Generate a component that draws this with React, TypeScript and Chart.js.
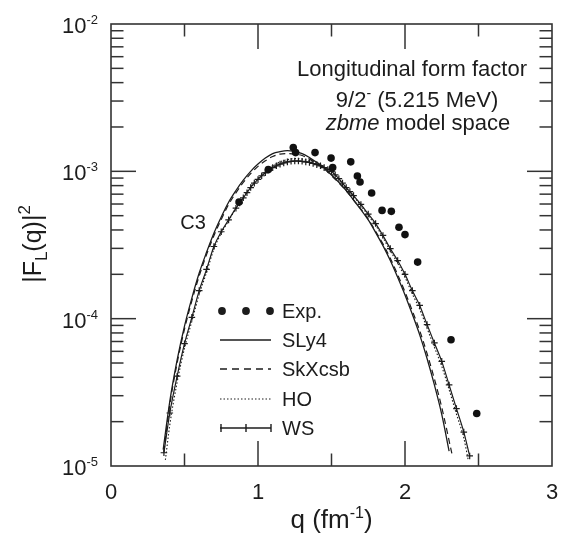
import React, { useEffect, useRef } from "react";
import { Chart, registerables } from "chart.js";

Chart.register(...registerables);

// ---------------- data ----------------
// experimental points
const expQ = [0.871, 1.07, 1.24, 1.256, 1.388, 1.497, 1.508, 1.631, 1.676, 1.694, 1.773, 1.844, 1.907, 1.959, 2.0, 2.086, 2.313, 2.488];
const expF = [6.19e-4, 1.03e-3, 1.45e-3, 1.34e-3, 1.34e-3, 1.23e-3, 1.06e-3, 1.16e-3, 9.3e-4, 8.46e-4, 7.13e-4, 5.43e-4, 5.35e-4, 4.17e-4, 3.72e-4, 2.42e-4, 7.2e-5, 2.27e-5];

// SLy4 (solid)
const sly4Q = [0.355, 0.4, 0.45, 0.5, 0.55, 0.6, 0.65, 0.7, 0.75, 0.8, 0.85, 0.9, 0.95, 1.0, 1.05, 1.1, 1.15, 1.2, 1.25, 1.3, 1.35, 1.4, 1.45, 1.5, 1.55, 1.6, 1.65, 1.7, 1.75, 1.8, 1.85, 1.9, 1.95, 2.0, 2.05, 2.1, 2.15, 2.2, 2.25, 2.3];
const sly4F = [1.29e-5, 2.75e-5, 5.25e-5, 8.91e-5, 1.38e-4, 2.04e-4, 2.82e-4, 3.8e-4, 4.9e-4, 6.17e-4, 7.41e-4, 8.71e-4, 1.0e-3, 1.12e-3, 1.23e-3, 1.32e-3, 1.36e-3, 1.38e-3, 1.36e-3, 1.32e-3, 1.24e-3, 1.15e-3, 1.06e-3, 9.44e-4, 8.41e-4, 7.41e-4, 6.38e-4, 5.5e-4, 4.68e-4, 3.85e-4, 3.13e-4, 2.48e-4, 1.91e-4, 1.45e-4, 1.07e-4, 7.76e-5, 5.37e-5, 3.55e-5, 2.24e-5, 1.26e-5];

// SkXcsb (dashed)
const skxQ = [0.36, 0.4, 0.45, 0.5, 0.55, 0.6, 0.65, 0.7, 0.75, 0.8, 0.85, 0.9, 0.95, 1.0, 1.05, 1.1, 1.15, 1.2, 1.25, 1.3, 1.35, 1.4, 1.45, 1.5, 1.55, 1.6, 1.65, 1.7, 1.75, 1.8, 1.85, 1.9, 1.95, 2.0, 2.05, 2.1, 2.15, 2.2, 2.25, 2.32];
const skxF = [1.25e-5, 2.6e-5, 5.0e-5, 8.5e-5, 1.32e-4, 1.95e-4, 2.72e-4, 3.66e-4, 4.72e-4, 5.95e-4, 7.15e-4, 8.4e-4, 9.65e-4, 1.08e-3, 1.18e-3, 1.26e-3, 1.31e-3, 1.32e-3, 1.31e-3, 1.28e-3, 1.21e-3, 1.13e-3, 1.04e-3, 9.35e-4, 8.35e-4, 7.4e-4, 6.4e-4, 5.55e-4, 4.75e-4, 3.92e-4, 3.22e-4, 2.57e-4, 1.99e-4, 1.52e-4, 1.13e-4, 8.3e-5, 5.8e-5, 3.9e-5, 2.5e-5, 1.2e-5];

// HO (dotted)
const hoQ = [0.37, 0.4, 0.45, 0.5, 0.55, 0.6, 0.65, 0.7, 0.75, 0.8, 0.85, 0.9, 0.95, 1.0, 1.05, 1.1, 1.15, 1.2, 1.25, 1.3, 1.35, 1.4, 1.45, 1.5, 1.55, 1.6, 1.65, 1.7, 1.75, 1.8, 1.85, 1.9, 1.95, 2.0, 2.05, 2.1, 2.15, 2.2, 2.25, 2.3, 2.35, 2.4, 2.43];
const hoF = [1.1e-5, 1.9e-5, 3.7e-5, 6.3e-5, 9.6e-5, 1.46e-4, 2.06e-4, 2.97e-4, 3.8e-4, 4.62e-4, 5.6e-4, 6.65e-4, 7.85e-4, 8.95e-4, 1.0e-3, 1.09e-3, 1.16e-3, 1.2e-3, 1.22e-3, 1.21e-3, 1.18e-3, 1.13e-3, 1.07e-3, 1.0e-3, 8.85e-4, 7.7e-4, 6.75e-4, 5.85e-4, 5.0e-4, 4.3e-4, 3.55e-4, 2.88e-4, 2.38e-4, 1.91e-4, 1.47e-4, 1.16e-4, 8.6e-5, 6.4e-5, 4.75e-5, 3.3e-5, 2.25e-5, 1.55e-5, 1.1e-5];

// WS (line with crosses)
const wsQ = [0.36, 0.4, 0.45, 0.5, 0.55, 0.6, 0.65, 0.7, 0.75, 0.8, 0.85, 0.875, 0.9, 0.925, 0.95, 0.975, 1.0, 1.025, 1.05, 1.075, 1.1, 1.125, 1.15, 1.175, 1.2, 1.225, 1.25, 1.275, 1.3, 1.325, 1.35, 1.375, 1.4, 1.425, 1.45, 1.475, 1.5, 1.525, 1.55, 1.575, 1.6, 1.625, 1.65, 1.7, 1.75, 1.8, 1.85, 1.9, 1.95, 2.0, 2.05, 2.1, 2.15, 2.2, 2.25, 2.3, 2.35, 2.4, 2.44];
const wsF = [1.23e-5, 2.29e-5, 4.07e-5, 6.76e-5, 1.02e-4, 1.55e-4, 2.16e-4, 3.09e-4, 3.89e-4, 4.68e-4, 5.62e-4, 6.1e-4, 6.61e-4, 7.16e-4, 7.76e-4, 8.32e-4, 8.81e-4, 9.33e-4, 9.77e-4, 1.02e-3, 1.06e-3, 1.09e-3, 1.12e-3, 1.14e-3, 1.16e-3, 1.17e-3, 1.175e-3, 1.175e-3, 1.17e-3, 1.16e-3, 1.15e-3, 1.13e-3, 1.11e-3, 1.09e-3, 1.06e-3, 1.03e-3, 1.0e-3, 9.46e-4, 8.91e-4, 8.32e-4, 7.76e-4, 7.29e-4, 6.84e-4, 5.96e-4, 5.13e-4, 4.42e-4, 3.67e-4, 2.99e-4, 2.48e-4, 2.0e-4, 1.55e-4, 1.23e-4, 9.12e-5, 6.84e-5, 5.13e-5, 3.55e-5, 2.45e-5, 1.7e-5, 1.17e-5];

// ticks / labels
const xTickValues = [0, 1, 2, 3];
const xTickLabels = ["0", "1", "2", "3"];
const yTickExponents = [-5, -4, -3, -2];
const legendLabels = ["Exp.", "SLy4", "SkXcsb", "HO", "WS"];
const titleLine1 = "Longitudinal form factor";
const titleLine2 = ["9/2", "-", " (5.215 MeV)"];
const titleLine3 = ["zbme", " model space"];
const curveLabel = "C3";

// ---------------- helpers ----------------
const FONT = '"Liberation Sans", Arial, Helvetica, sans-serif';
const INK = "#1c1c1c";

type Part = { t: string; size: number; dy?: number; italic?: boolean };

function fontOf(p: Part) {
  return `${p.italic ? "italic " : ""}${p.size}px ${FONT}`;
}

function richWidth(ctx: CanvasRenderingContext2D, parts: Part[]) {
  let w = 0;
  for (const p of parts) {
    ctx.font = fontOf(p);
    w += ctx.measureText(p.t).width;
  }
  return w;
}

function drawRich(ctx: CanvasRenderingContext2D, parts: Part[], x: number, y: number, align: "left" | "center" | "right") {
  const w = richWidth(ctx, parts);
  let cx = align === "left" ? x : align === "center" ? x - w / 2 : x - w;
  ctx.textAlign = "left";
  ctx.textBaseline = "alphabetic";
  for (const p of parts) {
    ctx.font = fontOf(p);
    ctx.fillText(p.t, cx, y + (p.dy || 0));
    cx += ctx.measureText(p.t).width;
  }
}

function seg(ctx: CanvasRenderingContext2D, x1: number, y1: number, x2: number, y2: number) {
  ctx.beginPath();
  ctx.moveTo(x1, y1);
  ctx.lineTo(x2, y2);
  ctx.stroke();
}

const decorPlugin = {
  id: "decor",
  afterDraw(chart: any) {
    const ctx: CanvasRenderingContext2D = chart.ctx;
    const { left, right, top, bottom } = chart.chartArea;
    const xs = chart.scales.x;
    const ys = chart.scales.y;
    ctx.save();

    // frame
    ctx.strokeStyle = "#333";
    ctx.lineWidth = 1.6;
    ctx.setLineDash([]);
    ctx.strokeRect(left, top, right - left, bottom - top);

    // x ticks (inward, bottom and top)
    ctx.lineWidth = 1.5;
    for (let v = 0.5; v < 3; v += 0.5) {
      const px = xs.getPixelForValue(v);
      const len = Number.isInteger(v) ? 25 : 12.5;
      seg(ctx, px, bottom, px, bottom - len);
      seg(ctx, px, top, px, top + len);
    }
    // y ticks (inward, left and right)
    for (let e = -5; e <= -3; e++) {
      for (let m = 1; m <= 9; m++) {
        if (e === -5 && m === 1) continue;
        const py = ys.getPixelForValue(m * Math.pow(10, e));
        const len = m === 1 ? 25 : 12.5;
        seg(ctx, left, py, left + len, py);
        seg(ctx, right, py, right - len, py);
      }
    }

    ctx.fillStyle = INK;
    // x tick labels
    ctx.font = `22px ${FONT}`;
    ctx.textAlign = "center";
    ctx.textBaseline = "alphabetic";
    xTickValues.forEach((v, i) => {
      ctx.fillText(xTickLabels[i], xs.getPixelForValue(v), bottom + 33);
    });
    // y tick labels 10^n
    yTickExponents.forEach((e) => {
      const py = ys.getPixelForValue(Math.pow(10, e));
      drawRich(ctx, [
        { t: "10", size: 22 },
        { t: String(e), size: 13, dy: -9 },
      ], left - 13, py + 9, "right");
    });

    // x axis title
    drawRich(ctx, [
      { t: "q (fm", size: 26 },
      { t: "-1", size: 16, dy: -10 },
      { t: ")", size: 26 },
    ], (left + right) / 2, bottom + 62, "center");

    // y axis title (rotated)
    ctx.save();
    ctx.translate(41, 244);
    ctx.rotate(-Math.PI / 2);
    drawRich(ctx, [
      { t: "|F", size: 25 },
      { t: "L", size: 17, dy: 6 },
      { t: "(q)|", size: 25 },
      { t: "2", size: 17, dy: -11 },
    ], 0, 0, "center");
    ctx.restore();

    // annotation text
    drawRich(ctx, [{ t: titleLine1, size: 22 }], 412, 76, "center");
    drawRich(ctx, [
      { t: titleLine2[0], size: 22 },
      { t: titleLine2[1], size: 14, dy: -9 },
      { t: titleLine2[2], size: 22 },
    ], 417, 107, "center");
    drawRich(ctx, [
      { t: titleLine3[0], size: 22, italic: true },
      { t: titleLine3[1], size: 22 },
    ], 418, 130, "center");

    // curve label
    drawRich(ctx, [{ t: curveLabel, size: 20 }], 193, 229, "center");

    // legend
    const rows = [311, 340, 369, 399, 428];
    const x1 = 220;
    const x2 = 271;
    ctx.strokeStyle = "#1c1c1c";
    ctx.fillStyle = INK;
    // Exp.
    [222, 246, 270].forEach((cx) => {
      ctx.beginPath();
      ctx.arc(cx, rows[0], 3.9, 0, Math.PI * 2);
      ctx.fill();
    });
    // SLy4
    ctx.lineWidth = 1.4;
    ctx.setLineDash([]);
    seg(ctx, x1, rows[1], x2, rows[1]);
    // SkXcsb
    ctx.setLineDash([7, 5]);
    seg(ctx, x1, rows[2], x2, rows[2]);
    // HO
    ctx.lineWidth = 1.2;
    ctx.setLineDash([1.5, 2]);
    seg(ctx, x1, rows[3], x2, rows[3]);
    // WS
    ctx.setLineDash([]);
    ctx.lineWidth = 1.4;
    seg(ctx, x1, rows[4], x2, rows[4]);
    [221, 246, 271].forEach((cx) => seg(ctx, cx, rows[4] - 4, cx, rows[4] + 4));

    ctx.fillStyle = INK;
    ctx.font = `20px ${FONT}`;
    ctx.textAlign = "left";
    ctx.textBaseline = "middle";
    legendLabels.forEach((lab, i) => ctx.fillText(lab, 282, rows[i] + 1));

    ctx.restore();
  },
};

function pts(xs: number[], ys: number[]) {
  return xs.map((x, i) => ({ x, y: ys[i] }));
}

export default function App() {
  const ref = useRef<HTMLCanvasElement>(null);

  useEffect(() => {
    if (!ref.current) return;
    const chart = new Chart(ref.current, {
      type: "scatter",
      data: {
        datasets: [
          {
            label: legendLabels[0],
            data: pts(expQ, expF),
            showLine: false,
            pointRadius: 3.8,
            pointBackgroundColor: "#111",
            pointBorderColor: "#111",
            pointBorderWidth: 0,
          },
          {
            label: legendLabels[1],
            data: pts(sly4Q, sly4F),
            showLine: true,
            borderColor: "#1c1c1c",
            borderWidth: 1.3,
            pointRadius: 0,
            cubicInterpolationMode: "monotone",
          },
          {
            label: legendLabels[2],
            data: pts(skxQ, skxF),
            showLine: true,
            borderColor: "#1c1c1c",
            borderWidth: 1.2,
            borderDash: [6, 4],
            pointRadius: 0,
            cubicInterpolationMode: "monotone",
          },
          {
            label: legendLabels[3],
            data: pts(hoQ, hoF),
            showLine: true,
            borderColor: "#1c1c1c",
            borderWidth: 1.1,
            borderDash: [1.5, 2],
            pointRadius: 0,
            cubicInterpolationMode: "monotone",
          },
          {
            label: legendLabels[4],
            data: pts(wsQ, wsF),
            showLine: true,
            borderColor: "#1c1c1c",
            borderWidth: 1.2,
            pointStyle: "cross",
            pointRadius: 3.3,
            pointBorderWidth: 1.2,
            pointBorderColor: "#1c1c1c",
            cubicInterpolationMode: "monotone",
          },
        ],
      } as any,
      options: {
        animation: false,
        responsive: false,
        devicePixelRatio: 1,
        layout: { padding: { left: 111, right: 15, top: 24, bottom: 72 } },
        plugins: { legend: { display: false }, tooltip: { enabled: false } },
        scales: {
          x: { type: "linear", min: 0, max: 3, display: false },
          y: { type: "logarithmic", min: 1e-5, max: 1e-2, display: false },
        },
      } as any,
      plugins: [decorPlugin],
    });
    return () => chart.destroy();
  }, []);

  return (
    <div style={{ position: "absolute", left: 0, top: 0, width: 567, height: 538, background: "#fff" }}>
      <canvas ref={ref} width={567} height={538} style={{ display: "block", width: 567, height: 538 }} />
    </div>
  );
}
